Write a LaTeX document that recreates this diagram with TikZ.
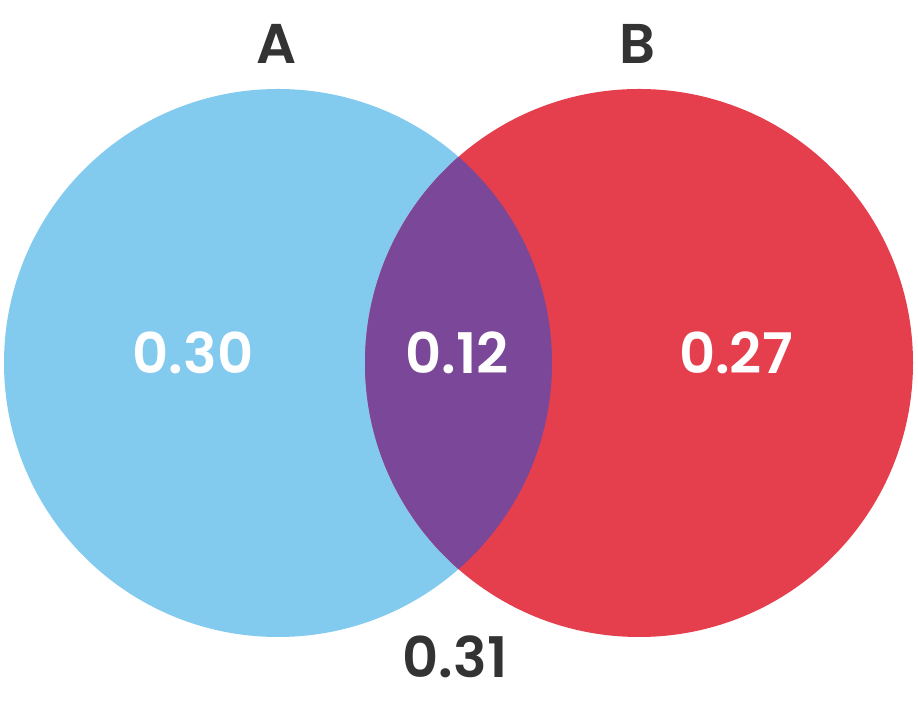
\documentclass[tikz,border=0pt]{standalone}
\usepackage{fontspec}
\setmainfont{Poppins}[UprightFont=* SemiBold, BoldFont=* Bold]
\usepackage{tikz}
\definecolor{setA}{HTML}{83CAEF}
\definecolor{setB}{HTML}{E53E4D}
\definecolor{setAB}{HTML}{7B4799}
\definecolor{ink}{HTML}{333333}

\begin{document}
\begin{tikzpicture}[x=1pt,y=1pt]
	\tikzstyle{every node}=[inner sep=0pt,font=\fontsize{56}{62}\selectfont]
	\tikzstyle{setname}=[text=ink]
	\tikzstyle{prob}=[text=white]
	\tikzstyle{outside}=[text=ink]
	\useasboundingbox (0,0) rectangle (918,703);
	\coordinate (CA) at (278,340);
	\coordinate (CB) at (639,340);
	\fill[setA] (CA) circle (274);
	\fill[setB] (CB) circle (274);
	\begin{scope}
		\clip (CA) circle (274);
		\fill[setAB] (CB) circle (274);
	\end{scope}

	\node (labelA)[setname] at (277,659) {A};
	\node (labelB)[setname] at (637,659) {B};
	\node (onlyA)[prob] at (193,350) {0.30};
	\node (both)[prob] at (457,350) {0.12};
	\node (onlyB)[prob] at (736,350) {0.27};
	\node (none)[outside] at (455,46) {0.31};
\end{tikzpicture}
\end{document}
